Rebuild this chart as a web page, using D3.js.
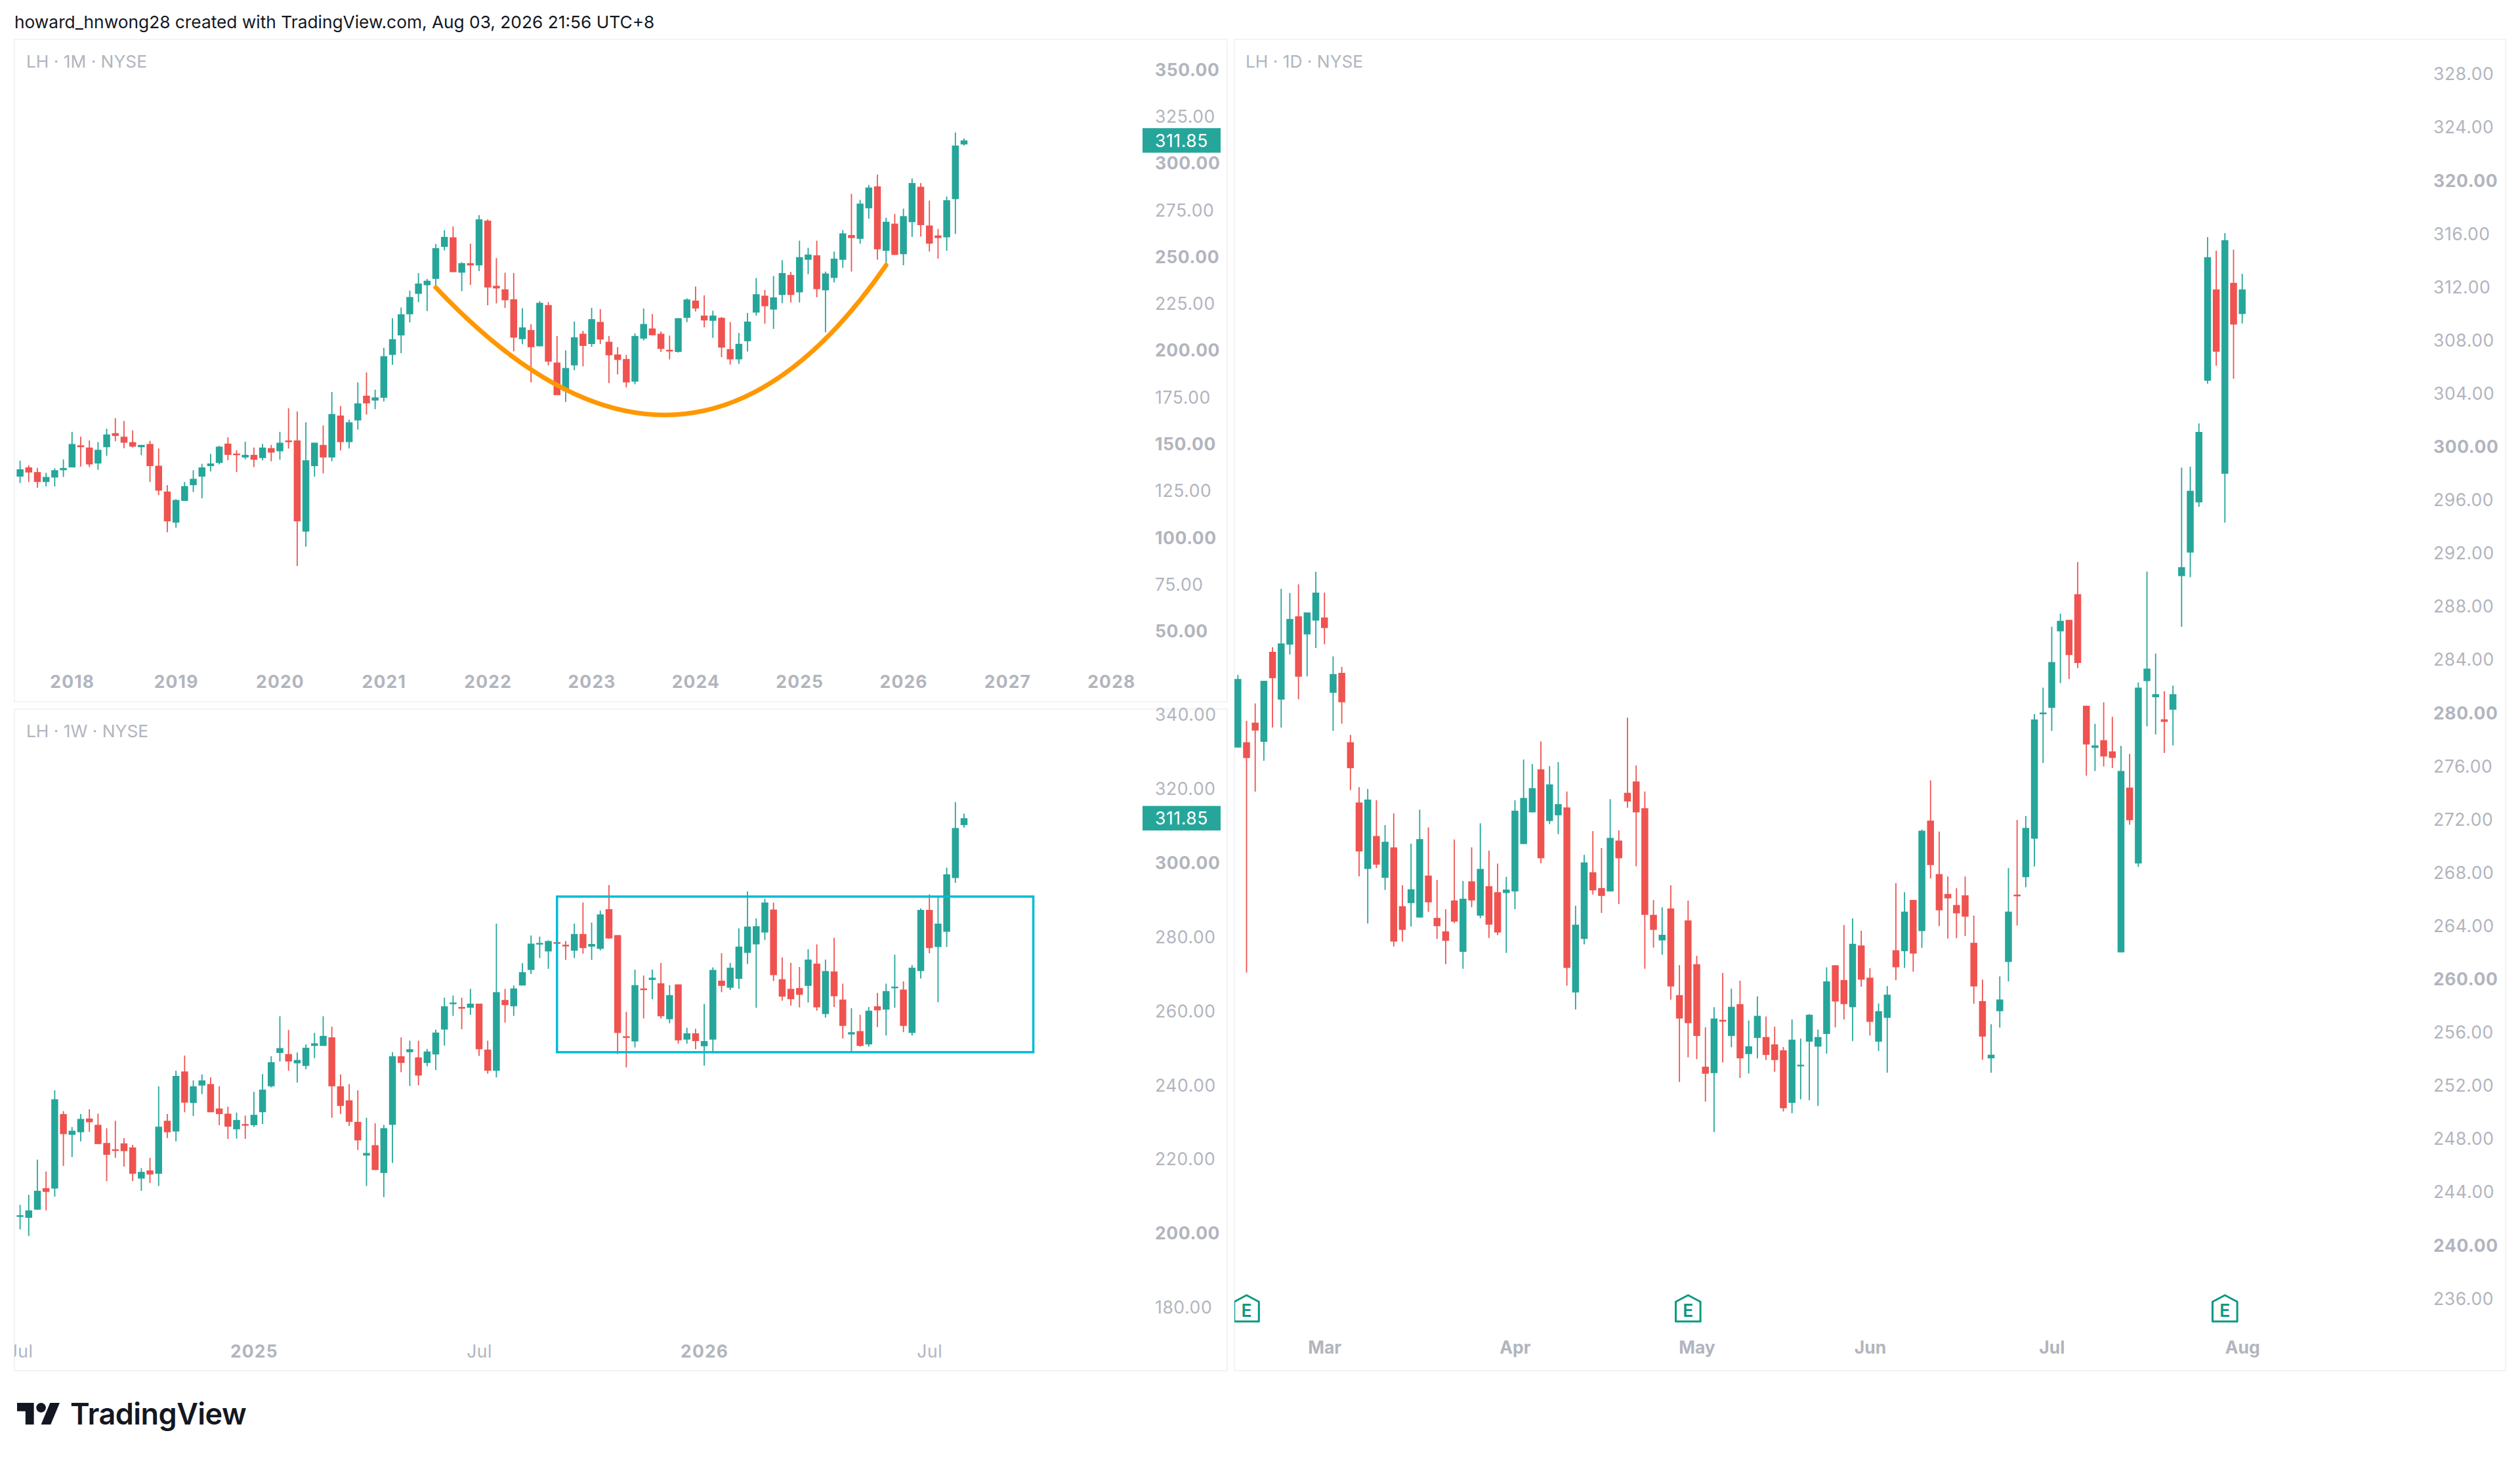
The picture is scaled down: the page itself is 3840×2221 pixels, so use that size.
<!DOCTYPE html>
<html><head><meta charset="utf-8">
<script src="https://cdn.jsdelivr.net/npm/d3@7/dist/d3.min.js"></script>
<style>
html,body{margin:0;padding:0;background:#fff}
svg{display:block}
text{font-family:Inter,"Noto Sans",sans-serif}
.tick line,.domain{display:none}
</style></head><body>
<div id="chart"></div>
<script>
const headerText="howard_hnwong28 created with TradingView.com, Aug 03, 2026 21:56 UTC+8";
const lastPrice=311.85;

// ---------- Monthly ----------
const monthlyOpen=[132.3,137.2,134.7,129.4,131.8,135.7,137.2,149,147.8,139.3,
148,155.5,153.6,150.7,148,149.7,138.1,124.3,107.7,119.3,
127.7,132.3,137.9,139.6,149.9,144.6,142.5,143.9,142.2,147.5,
145.8,151.6,151.6,102.9,137.9,149.2,142.5,164.9,150.7,162.3,
175.5,172.9,174.4,197.3,207.7,219,229.9,234.5,237.9,255,
260.1,241.2,246.3,245.1,269,234.2,232.3,227,205.7,210.6,
201.9,223.9,193.2,178,191.7,208.6,203.1,214.9,204.3,197.5,
195.1,183,206,211.4,208.6,200,198.9,217.1,226.3,218.3,
215.5,217.1,200.4,194.9,204.6,219.9,228.9,221.5,229.3,240,
230.7,248.1,250.5,231.8,238.4,248.1,261.3,259.3,275.6,287.3,
252.9,267.4,251.1,268.2,287.1,266.4,261.1,260.1,280.5,309.7];
const monthlyHigh=[140.8,138.4,136.9,134.3,136.7,141.5,156.2,153.6,151.6,150.7,
157.9,163.5,162,157,149.2,151.4,147.3,127.7,120.2,129.4,
135.7,139.1,144.4,148.7,153.3,146.3,150.9,147.8,149.7,149.2,
156.2,168.8,167.1,161.3,150.4,159.6,177.5,170,162.7,182.6,
187.9,178.7,201.1,216.8,222.6,231.6,241,237.9,256.5,263.9,
265.9,246.8,256.7,271.9,269.7,249,241.2,241,222.2,213.7,
226,225.5,207.4,199.7,215.1,210.1,222.4,221.7,207.4,201.4,
197.3,208.8,222.1,219.1,209.8,207.6,216.9,227.5,233.8,229.1,
220.9,217.5,214.8,209,219.7,238.4,232,239.4,247.9,241.6,
258.3,254.5,258.3,241.8,252.5,264,283.3,280.1,288.1,293.6,
270.6,272.6,275.4,291.5,289.1,279.7,264.6,281.9,316.1,312.9];
const monthlyLow=[128.9,129.4,126.3,127,127,132.1,137.2,137.6,137.4,135.9,
143.4,151.2,147.5,147.8,143.7,129.4,122.4,102.6,105,119.3,
124.1,120.7,135,138.8,141,134.7,141.5,137.4,141,140.5,
141.3,147.3,84.5,94.9,132.3,134,140.5,146.3,147.3,157.4,
165.4,168.3,172.4,192,198.2,214.7,225.5,220.7,234,253.1,
241.5,231.3,234.7,242,223.8,224.8,222.4,199.2,203,182.6,
201.9,191.7,175.8,172.2,189.1,191.2,201.6,203.1,182.3,186.9,
179.9,181.6,205,207.8,198.9,194.9,198.5,214.8,220.5,212,
206.4,196.1,192.1,192.5,199.1,218.3,214,211.2,224.9,225.3,
225.3,240.4,228.1,209.4,236,243.8,241.8,256.7,270,248.2,
245.2,250.7,245.2,260.3,260.5,252.5,248.7,252.9,261.9,309.1];
const monthlyClose=[136.2,134.5,129.4,132.1,135.7,136.9,149.7,148,138.8,146.6,
154.8,154,150.4,148.3,149.2,137.9,124.8,108.4,119.8,127.2,
131.1,137.2,139.3,148.3,143.9,144.1,143.9,141.3,147.8,145.1,
150.4,150.7,108.4,141,150.4,142.5,165.7,150.7,161.3,171.4,
171.4,174.6,196.6,205.7,219,228.2,235.4,236.9,254.3,260.3,
241.5,246.3,245.1,269.7,233.3,232.8,226.5,206.5,212,201.4,
225.1,193.7,175.8,190.3,206.7,202.1,216.4,205.5,197.1,194.6,
182.6,207.4,213.8,207.8,200.5,199.5,216.9,226.9,222.1,215.7,
218.3,201.2,194.9,203.2,215.1,229.7,223.3,228,241,229.3,
249.5,250.9,232.4,240.8,248.7,262.2,259.7,278.1,286.7,253.7,
268.4,250.7,271.4,289.1,266.6,256.7,259.7,279.9,309.1,311.85];
const monthlyTickIndex=[6,18,30,42,54,66,78,90,102,114,126];
const monthlyTickLabels=["2018","2019","2020","2021","2022","2023","2024","2025","2026","2027","2028"];
const monthlyPriceTicks=[350,325,300,275,250,225,200,175,150,125,100,75,50];
const monthlyBoldTicks=[350,300,250,200,150,100,50];
// arc drawing anchors: start, control, end (candle index / price)
const arcIndex=[48,77,100];
const arcPrice=[233.3,91.4,245.2];

// ---------- Weekly ----------
const weeklyOpen=[204.5,204,206.2,212,211.9,232,226.4,227.1,230.8,229.1,
224.2,222.5,224.1,223,214.6,216.8,215.9,230.2,227.3,243.5,
235,239.7,240.1,233.5,232.1,227.9,229.3,229,232.5,239.5,
248.5,248.2,245.7,245,250.4,250.4,252.7,239.5,235.7,229.9,
220.8,223.6,216.1,229.1,247.6,248.7,247.3,245.8,248.1,254.8,
261.9,260.9,260.7,261.8,249.4,243.7,262.8,261.1,266.7,270.9,
278,275.9,278.4,277.7,276.1,280.6,277.2,276.6,287.3,280.3,
253,251.6,265.9,268.2,267.3,257.6,267,252.1,253.8,250.3,
252.1,268,266.1,268.5,275.5,277.8,281,287.2,268.4,265.8,
266,266.6,272.6,259,270.5,262.9,253.5,254.4,250.8,261.1,
260.2,266.2,265.6,253.9,270.6,287.1,277.1,281.2,295.7,310];
const weeklyHigh=[207.5,210.2,219.7,216.5,238.4,232.8,228.5,232,233.3,232.1,
228.2,230.2,225.5,223.7,217.4,220.2,239.5,232,243.7,247.8,
241.1,242.7,241.9,239.5,234,232.4,231.6,238,242.8,247.6,
258.4,254.7,248.6,250.8,253.9,258.4,255.6,242.7,240.1,238.4,
231,229.5,229.1,248.7,252.7,251.8,251.8,249.6,254.8,263.4,
264,263.4,265.8,261.8,251.8,283.4,265.8,266.7,272.7,280.2,
279.9,278.9,281.5,278.7,283.4,289.1,283.7,286.9,293.8,280.3,
259.6,271,269.4,271,272.8,266.8,267,255.3,255,261.7,
271.6,275.4,272.8,282.1,292.1,284.8,290.1,289.1,274.3,272.8,
271.7,276.5,277.8,273.7,279.6,267.2,260.6,258.8,260.9,264.7,
267.2,275,267.8,272.2,287.5,291.3,290.5,298.5,316.2,313.1];
const weeklyLow=[200.9,199.1,206.2,206,209.7,218,220.4,224.6,227.2,223.9,
213.9,220.2,217.8,213.9,211.3,213.4,212.6,225.5,224.6,232.5,
231.5,237.4,232.5,229,225.3,225.4,225.3,228.5,229.3,239.2,
246.2,243.7,240.5,244.1,247.1,250.4,231,232,228.8,222.3,
212.6,216.9,209.6,218.8,243.3,239.6,239.8,244.9,243.9,250.5,
258.5,254.9,258.8,247.7,242.9,241.9,256.7,258.5,266.7,269.8,
274.1,271.2,270.4,273.6,274.1,275.3,273.6,276.2,279.3,248.2,
244.6,250,257.8,263,257.8,256.5,251,251,249.5,245.1,
248.4,264.9,265.5,265.8,272.5,260.7,279,267.9,262.6,261.3,
260.8,262.1,259.9,258,260.9,252.4,248.7,250.2,250.2,255.5,
253.2,260.7,254.1,253.2,268.6,275.4,262.2,277.1,294.4,309.3];
const weeklyClose=[204.7,206,211.3,211,236,226.6,227.5,230.7,229.8,223.9,
221,222.3,222,215.9,216.4,215.7,228.6,227.1,242.3,235.1,
239.5,241.1,232.5,232,228.6,230.4,229.1,231.8,238.6,246,
249.8,246.2,246.6,249.9,251.1,253.1,239.5,234.2,229.9,224.9,
221.5,216.9,228.2,247.6,245.8,249.5,242.4,248.9,254,261.1,
262.1,260.7,261.8,249.5,243.7,264.9,261.4,265.9,270.3,278,
278.2,278.7,278,277.5,280.6,276.8,277.9,285.9,279.4,253.9,
252.7,266.8,265.7,268.8,258.4,264.1,251.9,253.8,251.7,251.7,
270.9,266.6,271.5,277.2,282.6,282.7,289.1,269.5,263.7,263,
264.2,273.7,260.8,270.6,263.8,255.8,254.1,250.4,259.9,260,
265.2,266.4,255.8,271.5,287.1,276.8,283.4,296.7,309.2,311.85];
const weeklyTickIndex=[0,27,53,79,105];
const weeklyTickLabels=["Jul","2025","Jul","2026","Jul"];
const weeklyBoldIndex=[27,79];
const weeklyPriceTicks=[340,320,300,280,260,240,220,200,180];
const weeklyBoldTicks=[300,200];
const boxIndex=[62,117];
const boxPrice=[290.7,248.7];

// ---------- Daily ----------
const dailyOpen=[277.35,277.75,279.22,277.78,284.54,280.95,285.08,287.21,285.85,286.89,
287.12,281.46,282.96,277.75,273.22,268.23,270.7,267.56,269.85,265.43,
265.66,264.58,267.73,264.55,263.54,265.86,262,267.3,264.72,266.93,
266.48,266.42,266.54,270.1,272.48,275.71,271.83,272.26,272.85,258.95,
262.97,267.98,266.79,266.54,270.36,273.95,274.8,272.79,264.78,262.86,
265.26,258.75,264.36,261.07,253.37,252.89,256.89,255.68,258.07,254.32,
255.53,255.6,255.05,254.6,250.65,253.42,255.25,254.88,255.83,260.99,
259.88,257.84,262.48,260.06,255.25,257.04,262.12,262.05,265.9,263.56,
271.86,267.84,266.35,265.52,266.25,262.68,258.3,254,257.54,261.24,
266.3,267.61,270.5,279.85,280.33,286.08,286.94,288.87,280.49,277.32,
277.9,277.06,261.96,274.34,268.64,282.34,281.13,279.47,280.19,290.23,
292,295.77,304.91,311.77,297.92,312.26,309.92];
const dailyHigh=[282.8,279.36,280.66,282.36,284.88,289.27,288.96,289.61,287.5,290.55,
288.99,284.2,283.41,278.3,274.38,274.24,273.39,271.52,272.4,267,
270.13,272.68,271.35,267.4,265.2,270.44,267.33,269.85,271.66,269.6,
268.63,267.64,273.39,276.45,276.11,277.8,275.96,276.25,274.04,265.46,
269.28,271.07,269.8,273.47,271.12,279.59,276,274.04,265.89,265.35,
267,261,265.85,261.7,256.33,257.84,260.41,259.23,259.83,256.84,
258.65,257.14,256.38,254.85,256.92,255.48,257.32,256.16,260.84,261,
264.01,264.51,263.58,260.77,258.12,259.43,267.16,266.48,265.9,271.18,
274.88,271.03,267.66,266.78,267.66,264.72,259.91,256.56,260.16,268.29,
271.91,272.21,279.86,281.85,286.42,287.4,286.94,291.28,280.49,279.13,
280.75,279.66,277.47,276.87,282.23,290.57,284.41,281.58,282,298.38,
298.45,301.7,315.7,314.68,316,314.75,312.94];
const dailyLow=[277.35,260.45,274.04,276.36,278.85,278.85,284.34,280.97,282.7,284.83,
285.11,278.6,279.14,274.15,267.67,264.13,268.29,266.65,262.4,262.77,
263.9,264.58,265.01,262.97,261.07,264.16,260.73,265.35,264.53,263.05,
263.25,261.92,265.2,270.1,272.48,268.66,271.6,270.84,259.46,257.67,
262.57,266.31,264.92,266.54,265.6,272.82,268.43,260.73,262.32,261.78,
258.41,252.23,254.07,253.94,250.75,248.46,253.69,254.83,252.53,252.86,
254,253.87,252.99,250,249.87,250.92,250.85,250.42,254.35,256.33,
256.92,255.3,259.38,255.71,254.55,252.92,259.86,260.79,260.51,262.3,
267.51,263.93,263,263.03,263.18,258.1,253.9,252.92,256.31,259.78,
263.98,266.85,268.41,276.19,278.6,282.19,282.49,283.32,275.24,275.59,
275.93,275.81,261.96,271.55,268.38,278.94,278.34,276.94,277.51,286.42,
290.15,295.43,304.68,306.04,294.26,305.06,309.21];
const dailyClose=[282.5,276.56,278.63,282.36,282.56,285.17,287.01,282.67,287.5,288.99,
286.33,282.87,280.75,275.8,269.54,273.44,268.55,270.27,262.77,263.65,
266.7,270.47,265.72,263.93,262.83,264.27,265.99,265.86,268.23,264.04,
263.45,266.68,272.6,273.56,274.3,269.03,274.58,273.1,260.79,264.04,
268.72,266.62,266.2,270.56,269.03,273.3,272.48,264.78,263.65,263.28,
259.4,256.99,256.64,255.68,252.84,256.99,256.76,257.87,254,254.9,
257.19,254.25,253.87,250.25,255.4,253.52,257.27,255.6,259.78,258.27,
258.07,262.6,259.91,256.74,257.54,258.78,260.84,265.02,261.87,271.1,
268.52,265.12,266.02,264.89,264.64,259.4,255.63,254.27,258.42,265.02,
266.17,271.31,279.46,279.98,283.77,286.87,284.3,283.7,277.58,277.51,
276.68,276.57,275.59,271.89,281.85,283.28,281.36,279.28,281.36,290.9,
296.64,301.06,314.19,307.09,315.47,309.13,311.77];
const dailyTickIndex=[10,32,53,73,94,116];
const dailyTickLabels=["Mar","Apr","May","Jun","Jul","Aug"];
const dailyPriceTicks=[328,324,320,316,312,308,304,300,296,292,288,284,280,276,272,268,264,260,256,252,248,244,240,236];
const dailyBoldTicks=[320,300,280,260,240];
const earningsIndex=[1,52,114];

const GREEN="#26A69A",RED="#EF5350",GREY="#B2B5BE",FRAME="#F2F3F5";
const W=3840,H=2221;
const svg=d3.select("#chart").append("svg").attr("width",W).attr("height",H).attr("viewBox",[0,0,W,H]);
svg.append("rect").attr("width",W).attr("height",H).attr("fill","#fff");

svg.append("text").attr("x",22).attr("y",34).attr("dy",".35em")
  .attr("font-size",26.3).attr("fill","#131722").text(headerText);

function panel(cfg){
  const g=svg.append("g");
  const clipId="clip"+cfg.id;
  g.append("clipPath").attr("id",clipId).append("rect")
    .attr("x",cfg.box[0]).attr("y",cfg.box[1]).attr("width",cfg.box[2]-cfg.box[0]).attr("height",cfg.box[3]-cfg.box[1]);
  g.append("rect").attr("x",cfg.box[0]).attr("y",cfg.box[1]).attr("width",cfg.box[2]-cfg.box[0]).attr("height",cfg.box[3]-cfg.box[1])
    .attr("fill","none").attr("stroke",FRAME).attr("stroke-width",2);
  const x=d3.scaleLinear().domain(cfg.xDomain).range(cfg.xRange);
  const y=d3.scaleLinear().domain(cfg.yDomain).range(cfg.yRange);
  const idx=d3.range(cfg.open.length);
  const plot=g.append("g").attr("clip-path",`url(#${clipId})`);
  const color=i=>cfg.close[i]>=cfg.open[i]?GREEN:RED;
  plot.selectAll("line.w").data(idx).join("line").attr("class","w")
    .attr("x1",x).attr("x2",x).attr("y1",i=>y(cfg.high[i])).attr("y2",i=>y(cfg.low[i]))
    .attr("stroke",color).attr("stroke-width",1.8);
  plot.selectAll("rect.b").data(idx).join("rect").attr("class","b")
    .attr("x",i=>x(i)-5.25).attr("width",10.5)
    .attr("y",i=>Math.min(y(cfg.open[i]),y(cfg.close[i])))
    .attr("height",i=>Math.max(2.5,Math.abs(y(cfg.open[i])-y(cfg.close[i]))))
    .attr("fill",color);
  if(cfg.over) cfg.over(plot,x,y);
  // title
  g.append("text").attr("x",cfg.titleX).attr("y",cfg.titleY).attr("dy",".35em")
    .attr("font-size",26.3).attr("fill",GREY).text(cfg.title);
  // time axis
  const ax=d3.axisBottom(x).tickValues(cfg.tickIndex).tickFormat((d,i)=>cfg.tickLabels[i]).tickSize(0).tickPadding(0);
  const axG=g.append("g").attr("clip-path",`url(#${clipId})`).append("g").attr("transform",`translate(0,${cfg.axisY})`).call(ax);
  axG.selectAll("text").attr("y",0).attr("dy",".35em").attr("font-size",26.5).attr("fill",GREY)
    .attr("font-weight",d=>cfg.boldLabels(d)?700:400).style("letter-spacing",d=>cfg.boldLabels(d)?(cfg.boldSpacing||"0px"):"0.5px");
  // price axis
  const ay=d3.axisRight(y).tickValues(cfg.priceTicks).tickFormat(d3.format(".2f")).tickSize(0).tickPadding(0);
  const ayG=g.append("g").attr("transform",`translate(${cfg.priceX},0)`).call(ay);
  ayG.selectAll("text").attr("x",0).attr("dy",".38em").attr("font-size",26.5).attr("fill",GREY)
    .attr("font-weight",d=>cfg.bold.includes(d)?700:400).style("letter-spacing","0.6px");
  // last price tag
  if(cfg.tag){
    const t=g.append("g");
    t.append("rect").attr("x",cfg.tag[0]).attr("width",cfg.tag[1]-cfg.tag[0]).attr("y",y(lastPrice)-18.7).attr("height",37.4).attr("fill",GREEN);
    t.append("text").attr("x",cfg.priceX).attr("y",y(lastPrice)).attr("dy",".38em").attr("font-size",26.5).attr("fill","#fff").style("letter-spacing","0.6px").text(lastPrice.toFixed(2));
  }
  return {x,y,g,clipId};
}

const xDomainAB=[0,109], xRangeAB=[30.6,1469];

panel({id:"m",box:[22,60,1870,1069],xDomain:xDomainAB,xRange:xRangeAB,yDomain:[50,300],yRange:[960.7,247.7],
  open:monthlyOpen,high:monthlyHigh,low:monthlyLow,close:monthlyClose,
  title:"LH · 1M · NYSE",titleX:40,titleY:94,axisY:1039,
  tickIndex:monthlyTickIndex,tickLabels:monthlyTickLabels,boldLabels:()=>true,boldSpacing:"1.2px",
  priceTicks:monthlyPriceTicks,bold:monthlyBoldTicks,priceX:1760,tag:[1741,1860],
  over:(p,x,y)=>{
    const a=d3.path();
    a.moveTo(x(arcIndex[0]),y(arcPrice[0]));
    a.quadraticCurveTo(x(arcIndex[1]),y(arcPrice[1]),x(arcIndex[2]),y(arcPrice[2]));
    p.append("path").attr("d",a.toString()).attr("fill","none").attr("stroke","#FF9800").attr("stroke-width",7).attr("stroke-linecap","round");
  }});

panel({id:"w",box:[22,1080,1870,2088],xDomain:xDomainAB,xRange:xRangeAB,yDomain:[180,320],yRange:[1990.6,1200.4],
  open:weeklyOpen,high:weeklyHigh,low:weeklyLow,close:weeklyClose,
  title:"LH · 1W · NYSE",titleX:40,titleY:1114,axisY:2059,
  tickIndex:weeklyTickIndex,tickLabels:weeklyTickLabels,boldLabels:d=>weeklyBoldIndex.includes(d),boldSpacing:"1.2px",
  priceTicks:weeklyPriceTicks,bold:weeklyBoldTicks,priceX:1760,tag:[1741,1860],
  over:(p,x,y)=>{
    p.append("rect").attr("x",x(boxIndex[0])).attr("width",x(boxIndex[1])-x(boxIndex[0]))
      .attr("y",y(boxPrice[0])).attr("height",y(boxPrice[1])-y(boxPrice[0]))
      .attr("fill","none").attr("stroke","#00BCD4").attr("stroke-width",3.5);
  }});

const daily=panel({id:"d",box:[1881,60,3818,2088],xDomain:[0,116],xRange:[1886.3,3416.7],yDomain:[236,316],yRange:[1977.1,355.1],
  open:dailyOpen,high:dailyHigh,low:dailyLow,close:dailyClose,
  title:"LH · 1D · NYSE",titleX:1898,titleY:94,axisY:2053,
  tickIndex:dailyTickIndex,tickLabels:dailyTickLabels,boldLabels:()=>true,
  priceTicks:dailyPriceTicks,bold:dailyBoldTicks,priceX:3708});

// earnings markers
const eG=svg.append("g").attr("clip-path",`url(#${daily.clipId})`);
const eMark=eG.selectAll("g").data(earningsIndex).join("g").attr("transform",d=>`translate(${daily.x(d)},1973)`);
eMark.append("path").attr("d","M0 0L18.8 10V40H-18.8V10Z").attr("fill","#fff").attr("stroke","#089981").attr("stroke-width",3).attr("stroke-linejoin","round");
eMark.append("text").attr("text-anchor","middle").attr("y",33).attr("font-size",26.5).attr("font-weight",600).attr("fill","#089981").text("E");

// logo
const logo=svg.append("g").attr("transform","translate(26,2129.7) scale(1.83)").attr("fill","#131722");
logo.append("path").attr("d","M14 22H7V11H0V4h14v18zM28 22h-8l7.5-18h8L28 22z");
logo.append("circle").attr("cx",20).attr("cy",8).attr("r",4);
svg.append("text").attr("x",107).attr("y",2170).attr("font-size",45).attr("font-weight",600).attr("fill","#131722").style("letter-spacing","-0.55px").text("TradingView");
</script>
</body></html>
